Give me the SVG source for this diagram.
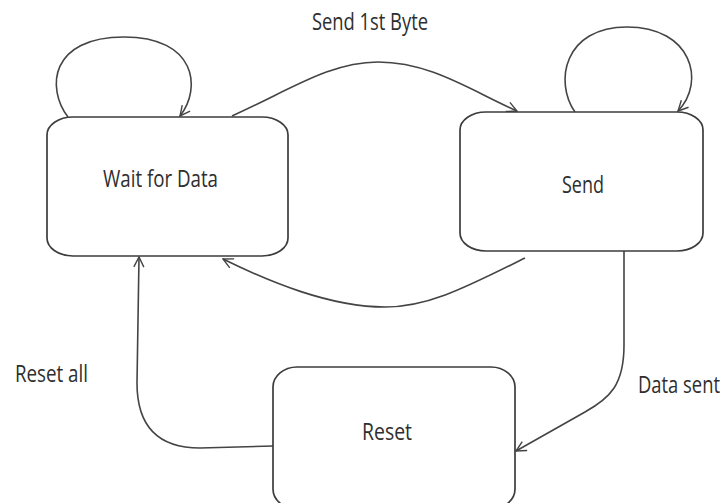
<svg xmlns="http://www.w3.org/2000/svg" width="724" height="503" viewBox="0 0 724 503">
  <style>
    .state { fill: #ffffff; stroke: #3c3c3c; stroke-width: 1.7; }
    .label { font-family: "Open Sans", "Liberation Sans", sans-serif; font-size: 23px; fill: #2e2e2e; }
    .edge { fill: none; stroke: #444444; stroke-width: 1.6; }
  </style>
  <defs>
    <marker id="arrow" viewBox="0 0 12 12" refX="11" refY="6" markerWidth="12" markerHeight="12" markerUnits="userSpaceOnUse" orient="auto">
      <path d="M1,1 L11,6 L1,11" fill="none" stroke="#444444" stroke-width="1.4"/>
    </marker>
  </defs>
  <rect width="724" height="503" fill="#ffffff"/>

  <g id="connectors">
    <!-- self loop on Wait for Data -->
    <path class="edge" d="M68,117 C46,88 50,37 124,37 C196,37 202,88 180,116" marker-end="url(#arrow)"/>
    <!-- self loop on Send -->
    <path class="edge" d="M575,112 C554,82 564,27 627,27 C692,27 706,82 678,111" marker-end="url(#arrow)"/>
    <!-- Wait for Data to Send -->
    <path class="edge" d="M232,116 C290,90 330,62 378,62 C430,62 470,90 517,111" marker-end="url(#arrow)"/>
    <!-- Send back to Wait for Data -->
    <path class="edge" d="M525,258 C470,285 430,307 385,307 C330,307 270,282 223,259" marker-end="url(#arrow)"/>
    <!-- Reset to Wait for Data -->
    <path class="edge" d="M273,446 L200,448 C152,448 137,420 137,383 L139,257" marker-end="url(#arrow)"/>
    <!-- Send to Reset -->
    <path class="edge" d="M624,251 L624,345 C624,385 610,398 585,412 L516,451" marker-end="url(#arrow)"/>
  </g>

  <g id="wait-for-data">
    <rect class="state" x="47" y="117" width="241" height="139" rx="26" ry="18"/>
    <text class="label" x="103" y="187" textLength="115" lengthAdjust="spacingAndGlyphs">Wait for Data</text>
  </g>

  <g id="send">
    <rect class="state" x="460" y="112" width="243" height="139" rx="26" ry="18"/>
    <text class="label" x="562" y="193" textLength="42" lengthAdjust="spacingAndGlyphs">Send</text>
  </g>

  <g id="reset">
    <rect class="state" x="273" y="367" width="242" height="142" rx="24" ry="20"/>
    <text class="label" x="362" y="440" textLength="50" lengthAdjust="spacingAndGlyphs">Reset</text>
  </g>

  <g id="edge-labels">
    <text class="label" x="312" y="30" textLength="116" lengthAdjust="spacingAndGlyphs">Send 1st Byte</text>
    <text class="label" x="15" y="382" textLength="73" lengthAdjust="spacingAndGlyphs">Reset all</text>
    <!-- horizontally condensed to fit against the right edge -->
    <text class="label" transform="translate(638,393) scale(0.8,1)">Data sent</text>
  </g>
</svg>
